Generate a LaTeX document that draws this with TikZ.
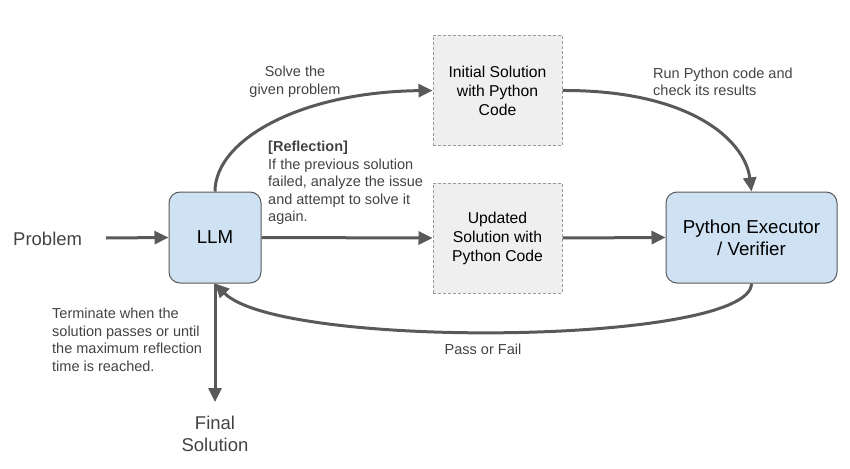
\documentclass[tikz,border=0pt]{standalone}
\usepackage{fontspec}
\setmainfont{Liberation Sans}
\usetikzlibrary{arrows.meta}
\definecolor{linegray}{HTML}{595959}
\definecolor{txtgray}{HTML}{434343}
\definecolor{boxblue}{HTML}{CFE2F3}
\definecolor{boxgray}{HTML}{EFEFEF}
\definecolor{dashgray}{HTML}{9A9A9A}
\tikzset{
  bluebox/.style={draw=linegray, line width=1pt, fill=boxblue, rounded corners=11pt, align=center, inner sep=0pt},
  graybox/.style={draw=dashgray, line width=1pt, dashed, dash pattern=on 3pt off 2pt, fill=boxgray, align=center, inner sep=0pt, minimum width=129pt, minimum height=110pt, font=\fontsize{15.7}{19}\selectfont},
  conn/.style={draw=linegray, line width=3pt, -{Triangle[length=14pt,width=13pt]}},
  lbl/.style={text=txtgray, font=\fontsize{14.5}{17.5}\selectfont, inner sep=0pt},
  biglbl/.style={text=txtgray, font=\fontsize{18.5}{22.5}\selectfont, inner sep=0pt, align=center}
}
\begin{document}
\begin{tikzpicture}[x=1pt,y=-1pt]
\useasboundingbox (0,0) rectangle (850,468);
\node[bluebox, minimum width=92pt, minimum height=91pt, font=\fontsize{18.7}{22}\selectfont] (llm) at (215,237.5) {LLM};
\node[graybox] (init) at (497.5,90.5) {Initial Solution\\with Python\\Code};
\node[graybox] (upd) at (497.5,238) {Updated\\Solution with\\Python Code};
\node[bluebox, minimum width=171pt, minimum height=91pt, font=\fontsize{18.7}{21.7}\selectfont] (exec) at (751.5,237.5) {Python Executor\\/ Verifier};
\node[biglbl, anchor=west] (prob) at (13,239) {Problem};
\node[biglbl] (final) at (215,434) {Final\\Solution};
\coordinate (pstart) at (106,238);
\coordinate (fend) at (215,402);

\draw[conn] (pstart) -- (llm.west);
\draw[conn] (llm.east) -- (upd.west);
\draw[conn] (upd.east) -- (exec.west);
\draw[conn] (llm.north) .. controls (215,140) and (300,92) .. (init.west);
\draw[conn] (init.east) .. controls (690,90) and (745,140) .. (exec.north);
\draw[conn] (exec.south) .. controls (751,345) and (280,350) .. (llm.south);
\draw[conn] (llm.south) -- (fend);

\node[lbl, align=center] (l1) at (295,82) {Solve the\\given problem};
\node[lbl, align=left, anchor=west] (l2) at (653,82) {Run Python code and\\check its results};
\node[lbl, align=left, anchor=north west] (l3) at (268,141) {\textbf{[Reflection]}\\If the previous solution\\failed, analyze the issue\\and attempt to solve it\\again.};
\node[lbl, align=left, anchor=north west] (l4) at (52,308) {Terminate when the\\solution passes or until\\the maximum reflection\\time is reached.};
\node[lbl] (l5) at (483,349) {Pass or Fail};
\end{tikzpicture}
\end{document}
